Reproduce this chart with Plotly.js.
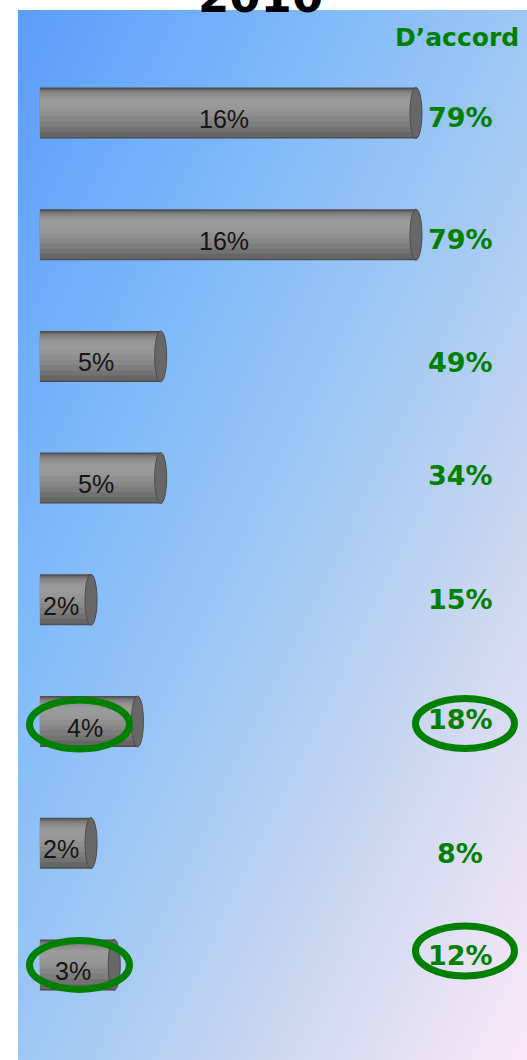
<!DOCTYPE html>
<html>
<head>
<meta charset="utf-8">
<script src="https://cdn.plot.ly/plotly-3.0.1.min.js"></script>
<style>
  html, body { margin: 0; padding: 0; background: #ffffff; width: 527px; height: 1060px; overflow: hidden; }
  #bg { position: absolute; left: 18px; top: 10px; width: 509px; height: 1050px;
        background: linear-gradient(to bottom right, rgb(92,156,250) 0%, rgb(128,186,250) 30%, rgb(160,200,244) 52%, rgb(205,216,240) 75%, rgb(250,232,248) 100%); }
  #chart { position: absolute; left: 0; top: 0; width: 527px; height: 1060px; }
</style>
</head>
<body>
<div id="bg"></div>
<div id="chart"></div>
<script>
// ---- data ----
var categories = ['Q1', 'Q2', 'Q3', 'Q4', 'Q5', 'Q6', 'Q7', 'Q8'];
var disagree   = [16, 16, 5, 5, 2, 4, 2, 3];        // values printed on the grey cylinders
var agree      = [79, 79, 49, 34, 15, 18, 8, 12];   // "D'accord" column
var title      = '2010';
var agreeHeader = 'D\u2019accord';
var circled    = [5, 7];                             // rows whose values are circled in green

// ---- layout constants (style only) ----
var W = 527, H = 1060;
var BASE = -0.2;
var PX_PER_UNIT = 23.21, X0_PX = 44.6;
var ROW0_PX = 113, ROW_PX = 121.7;
var BAR_H = 51;
var agreeShift = [-4, -5, -6, 3, 0, 2.5, -10, 9];

var xr = [-X0_PX / PX_PER_UNIT, (W - X0_PX) / PX_PER_UNIT];
var yr = [(H - ROW0_PX) / ROW_PX, -ROW0_PX / ROW_PX];

var barX = disagree.map(function (v) { return v - BASE; });
var half = BAR_H / 2 / ROW_PX;

function layer(color, topPx, hPx) {
  return {
    type: 'bar', orientation: 'h',
    y: categories, x: barX, base: BASE,
    width: hPx / ROW_PX, offset: -half + topPx / ROW_PX,
    marker: { color: color, line: { width: 0 } },
    hoverinfo: 'skip', showlegend: false
  };
}

// stacked shading layers to imitate the cylinder's vertical gradient
var traces = [
  layer('#4f4f4f', 0, BAR_H),
  layer('#666666', 1.5, 48),
  layer('#727272', 2.5, 42),
  layer('#7d7d7d', 3.5, 36),
  layer('#878787', 5, 29),
  layer('#8f8f8f', 7, 22),
  layer('#969696', 9, 15),
  layer('#9a9a9a', 11, 8)
];

var shapes = [];
var capHalf = 6 / PX_PER_UNIT;
disagree.forEach(function (v, i) {
  shapes.push({
    type: 'circle', xref: 'x', yref: 'y', layer: 'above',
    x0: v - capHalf, x1: v + capHalf, y0: i - half, y1: i + half,
    fillcolor: '#676767', line: { color: '#4c4c4c', width: 1 }
  });
});

function px(xp) { return xp / W; }
function py(yp) { return 1 - yp / H; }
function ellipse(cx, cy, rx, ry) {
  return {
    type: 'circle', xref: 'paper', yref: 'paper', layer: 'above',
    x0: px(cx - rx), x1: px(cx + rx), y0: py(cy + ry), y1: py(cy - ry),
    fillcolor: 'rgba(0,0,0,0)', line: { color: '#008000', width: 7 }
  };
}

var annotations = [];
disagree.forEach(function (v, i) {
  annotations.push({
    xref: 'x', yref: 'y', x: (BASE + v) / 2, y: i,
    xanchor: 'center', yanchor: 'middle',
    xshift: -4, yshift: -6,
    text: v + '%', showarrow: false,
    font: { family: 'Liberation Sans, Arial, sans-serif', size: 25, color: '#151515' }
  });
});
agree.forEach(function (v, i) {
  annotations.push({
    xref: 'paper', yref: 'y', x: px(460), y: i, yshift: agreeShift[i],
    xanchor: 'center', yanchor: 'middle',
    text: '<b>' + v + '%</b>', showarrow: false,
    font: { family: 'DejaVu Sans, Verdana, sans-serif', size: 27, color: '#008000' }
  });
});
annotations.push({
  xref: 'paper', yref: 'paper', x: px(457), y: py(37),
  xanchor: 'center', yanchor: 'middle',
  text: '<b>' + agreeHeader + '</b>', showarrow: false,
  font: { family: 'DejaVu Sans, Verdana, sans-serif', size: 25, color: '#008000' }
});
annotations.push({
  xref: 'paper', yref: 'paper', x: px(260), y: py(-4),
  xanchor: 'center', yanchor: 'middle',
  text: '<b>' + title + '</b>', showarrow: false,
  font: { family: 'DejaVu Sans, Verdana, sans-serif', size: 45, color: '#000000' }
});

// green ellipses around circled rows (left bar value + right agree value)
circled.forEach(function (i) {
  var cy = ROW0_PX + ROW_PX * i;
  shapes.push(ellipse(79.5, cy + (i === 5 ? 3 : 0), 50, 24.5));
  shapes.push(ellipse(465, cy + (i === 5 ? 2 : -14), 49.5, 25));
});

var layout = {
  width: W, height: H,
  margin: { l: 0, r: 0, t: 0, b: 0, pad: 0 },
  paper_bgcolor: 'rgba(0,0,0,0)', plot_bgcolor: 'rgba(0,0,0,0)',
  barmode: 'overlay',
  showlegend: false,
  xaxis: { range: xr, visible: false, fixedrange: true },
  yaxis: { type: 'category', range: yr, visible: false, fixedrange: true },
  shapes: shapes,
  annotations: annotations
};

Plotly.newPlot('chart', traces, layout, { staticPlot: true, displayModeBar: false });
</script>
</body>
</html>
